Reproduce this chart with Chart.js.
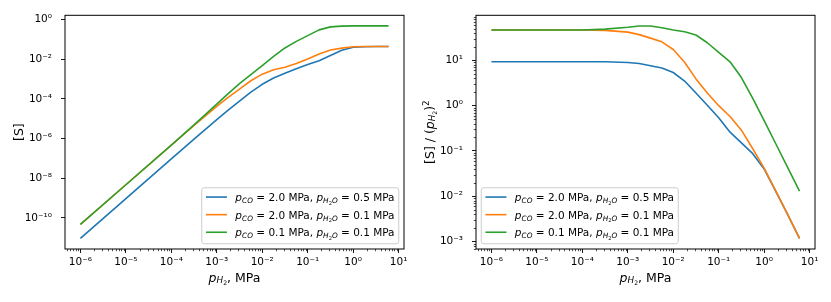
<!DOCTYPE html>
<html>
<head>
<meta charset="utf-8">
<script src="https://cdn.jsdelivr.net/npm/chart.js@4.4.1/dist/chart.umd.min.js"></script>
<style>
  body { margin: 0; background: #fff; }
  #wrap { position: relative; width: 831px; height: 302px; }
  canvas { position: absolute; top: 0; }
</style>
</head>
<body>
<div id="wrap">
  <canvas id="left" width="415" height="302" style="left:0"></canvas>
  <canvas id="right" width="416" height="302" style="left:415px"></canvas>
</div>
<script>
// hydrogen partial pressure, MPa
const pH2 = [1e-6, 1e-5, 1e-4, 3.16e-4, 1e-3, 1.78e-3, 3.16e-3, 5.62e-3, 1e-2, 1.78e-2,
             3.16e-2, 5.62e-2, 0.1, 0.178, 0.316, 0.562, 1.0, 1.78, 3.16, 6.0];

// left panel: [S]
const sBlue   = [9.3e-12, 9.3e-10, 9.3e-8, 9.3e-7, 9.0e-6, 2.69e-5, 7.6e-5, 2.14e-4, 5.37e-4, 1.12e-3,
                 1.91e-3, 3.24e-3, 5.37e-3, 8.3e-3, 0.0151, 0.0275, 0.0398, 0.0417, 0.0427, 0.0427];
const sOrange = [4.68e-11, 4.68e-9, 4.68e-7, 4.57e-6, 4.17e-5, 1.17e-4, 3.09e-4, 8.1e-4, 1.74e-3, 2.88e-3,
                 3.89e-3, 6.0e-3, 0.0100, 0.0182, 0.0288, 0.0355, 0.0417, 0.0427, 0.0427, 0.0427];
const sGreen  = [4.68e-11, 4.68e-9, 4.68e-7, 4.9e-6, 5.37e-5, 1.82e-4, 5.75e-4, 1.66e-3, 4.68e-3, 0.0135,
                 0.0363, 0.0776, 0.151, 0.295, 0.417, 0.457, 0.468, 0.468, 0.468, 0.468];

// right panel: [S] / (pH2)^2
const rBlue   = [9.3, 9.3, 9.3, 9.3, 9.0, 8.5, 7.6, 6.8, 5.4, 3.5,
                 1.9, 1.02, 0.54, 0.26, 0.151, 0.087, 0.040, 0.0132, 0.0043, 0.00117];
const rOrange = [47, 47, 47, 46, 42, 37, 31, 25.7, 17.4, 9.1,
                 3.9, 1.9, 1.0, 0.575, 0.288, 0.112, 0.0417, 0.0135, 0.0043, 0.00117];
const rGreen  = [47, 47, 47, 49, 53.7, 57.5, 57.5, 52.5, 46.8, 42.7,
                 36.3, 24.5, 15.1, 9.3, 4.17, 1.45, 0.468, 0.148, 0.0468, 0.0129];

// legend values
const legendCO  = ['2.0', '2.0', '0.1'];
const legendH2O = ['0.5', '0.1', '0.1'];

// tick labels
const xTicks = [1e-6, 1e-5, 1e-4, 1e-3, 1e-2, 1e-1, 1, 10];
const leftYTicks = [1e-10, 1e-8, 1e-6, 1e-4, 1e-2, 1];
const rightYTicks = [1e-3, 1e-2, 1e-1, 1, 10];

const colors = ['#1f77b4', '#ff7f0e', '#2ca02c'];
const FONT = '"DejaVu Sans"';
const FS = 10.5;   // ticks and legend
const LS = 12.5;   // axis titles

const supMap = {'-': '⁻', '0': '⁰', '1': '¹', '2': '²', '3': '³', '4': '⁴',
                '5': '⁵', '6': '⁶', '7': '⁷', '8': '⁸', '9': '⁹'};
function powLabel(v) {
    const e = Math.round(Math.log10(v));
    return '10' + String(e).split('').map(c => supMap[c]).join('');
}

// rich text parts: [text, size, italic, dy]
function setFont(ctx, p) {
    ctx.font = (p[2] ? 'italic ' : '') + p[1] + 'px ' + FONT;
}
function richWidth(ctx, parts) {
    let w = 0;
    parts.forEach(p => { setFont(ctx, p); w += ctx.measureText(p[0]).width; });
    return w;
}
function drawRich(ctx, parts, x, y, align) {
    let cx = align === 'center' ? x - richWidth(ctx, parts) / 2 : x;
    parts.forEach(p => {
        setFont(ctx, p);
        ctx.fillText(p[0], cx, y + p[3]);
        cx += ctx.measureText(p[0]).width;
    });
}

const xTitle = [['p', LS, true, 0], ['H', LS * 0.7, true, 1.8], ['2', LS * 0.49, false, 3.5], [', MPa', LS, false, 0]];
const legendParts = legendCO.map((co, i) => [
    ['p', FS, true, 0], ['CO', FS * 0.7, true, 2], [' = ' + co + ' MPa, ', FS, false, 0],
    ['p', FS, true, 0], ['H', FS * 0.7, true, 2], ['2', FS * 0.49, false, 3.5], ['O', FS * 0.7, true, 2],
    [' = ' + legendH2O[i] + ' MPa', FS, false, 0]
]);

function eachMinor(scale, fn) {
    for (let d = -8; d <= 2; d++) {
        for (let k = 2; k <= 9; k++) {
            const v = k * Math.pow(10, d);
            if (v > scale.min && v < scale.max) fn(Math.round(scale.getPixelForValue(v)) + 0.5);
        }
    }
}

function makeFrame(cfg) {
    return {
        id: 'frame',
        afterDraw(chart) {
            const ctx = chart.ctx, a = chart.chartArea;
            ctx.save();
            ctx.strokeStyle = '#000';
            ctx.lineWidth = 0.7;
            ctx.beginPath();
            eachMinor(chart.scales.x, p => { ctx.moveTo(p, a.bottom); ctx.lineTo(p, a.bottom + 2.2); });
            if (cfg.yMinor) eachMinor(chart.scales.y, p => { ctx.moveTo(a.left, p); ctx.lineTo(a.left - 2.2, p); });
            ctx.stroke();

            ctx.lineWidth = 1;
            ctx.strokeRect(a.left, a.top, a.right - a.left, a.bottom - a.top);

            ctx.fillStyle = '#000';
            ctx.textBaseline = 'alphabetic';
            drawRich(ctx, xTitle, (a.left + a.right) / 2, 281.5, 'center');
            ctx.save();
            ctx.translate(a.left - 42.5, (a.top + a.bottom) / 2);
            ctx.rotate(-Math.PI / 2);
            drawRich(ctx, cfg.yTitle, 0, 0, 'center');
            ctx.restore();

            // legend box
            const pad = 0.4 * FS, handle = 2 * FS, textPad = 0.8 * FS, axPad = 0.5 * FS;
            const textW = Math.max(...legendParts.map(p => richWidth(ctx, p)));
            const lw = pad + handle + textPad + textW + pad;
            const bottom = a.bottom - axPad, top = bottom - 56;
            const left = cfg.legendLoc === 'right' ? a.right - axPad - lw : a.left + axPad;
            const r = 2.5;
            ctx.beginPath();
            ctx.moveTo(left + r, top);
            ctx.arcTo(left + lw, top, left + lw, bottom, r);
            ctx.arcTo(left + lw, bottom, left, bottom, r);
            ctx.arcTo(left, bottom, left, top, r);
            ctx.arcTo(left, top, left + lw, top, r);
            ctx.closePath();
            ctx.fillStyle = 'rgba(255,255,255,0.8)';
            ctx.fill();
            ctx.strokeStyle = '#cccccc';
            ctx.lineWidth = 1;
            ctx.stroke();

            legendParts.forEach((parts, i) => {
                const y = bottom - 11.5 - (2 - i) * 17.6;
                ctx.strokeStyle = colors[i];
                ctx.lineWidth = 1.6;
                ctx.beginPath();
                ctx.moveTo(left + pad, y);
                ctx.lineTo(left + pad + handle, y);
                ctx.stroke();
                ctx.fillStyle = '#000';
                drawRich(ctx, parts, left + pad + handle + textPad, y + 4, 'left');
            });
            ctx.restore();
        }
    };
}

function axisOpts(min, max, ticks, fit, padding) {
    return {
        type: 'logarithmic',
        min: min,
        max: max,
        afterBuildTicks: s => { s.ticks = ticks.map(v => ({value: v})); },
        afterFit: fit,
        grid: {display: true, drawOnChartArea: false, drawTicks: true, tickLength: 4, color: '#000', lineWidth: 0.9},
        border: {display: false},
        ticks: {
            autoSkip: false, maxRotation: 0, minRotation: 0, padding: padding, color: '#000',
            font: {family: 'DejaVu Sans', size: FS},
            callback: v => powLabel(v)
        }
    };
}

function makeChart(id, cfg) {
    const datasets = cfg.series.map((s, i) => ({
        data: pH2.map((x, j) => ({x: x, y: s[j]})),
        borderColor: colors[i],
        borderWidth: 1.6,
        borderJoinStyle: 'round',
        pointRadius: 0,
        tension: 0,
        fill: false,
        order: 3 - i
    }));
    new Chart(document.getElementById(id), {
        type: 'line',
        data: {datasets: datasets},
        options: {
            responsive: false,
            animation: false,
            events: [],
            layout: {padding: {top: 12, right: cfg.padRight, left: 0, bottom: 0}},
            scales: {
                x: axisOpts(4.58e-7, 13.15, xTicks, s => { s.height = 53; }, 3),
                y: axisOpts(cfg.yMin, cfg.yMax, cfg.yTicks, s => { s.width = cfg.yWidth; }, 9)
            },
            plugins: {legend: {display: false}, tooltip: {enabled: false}}
        },
        plugins: [makeFrame(cfg)]
    });
}

makeChart('left', {
    series: [sBlue, sOrange, sGreen],
    yMin: 2.72e-12, yMax: 1.6, yTicks: leftYTicks, yWidth: 65, padRight: 11,
    yMinor: false, legendLoc: 'right',
    yTitle: [['[S]', LS, false, 0]]
});

makeChart('right', {
    series: [rBlue, rOrange, rGreen],
    yMin: 6.84e-4, yMax: 98.9, yTicks: rightYTicks, yWidth: 61, padRight: 16,
    yMinor: true, legendLoc: 'left',
    yTitle: [['[S] / (', LS, false, 0], ['p', LS, true, 0], ['H', LS * 0.7, true, 1.8], ['2', LS * 0.49, false, 3.5],
             [')', LS, false, 0], ['2', LS * 0.7, false, -5]]
});
</script>
</body>
</html>
